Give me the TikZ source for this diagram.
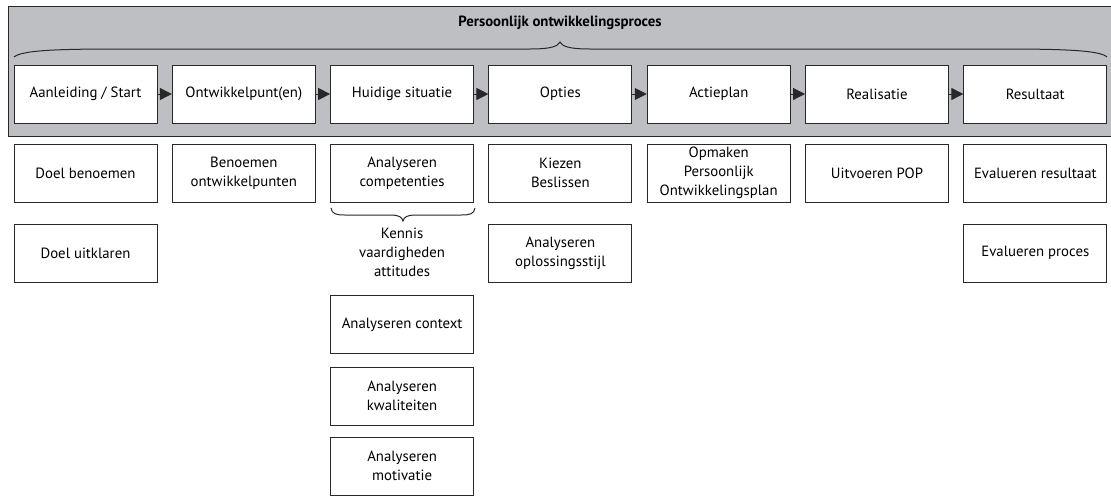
\documentclass[tikz,border=0pt]{standalone}
\usepackage{fontspec}
\setmainfont{PT Sans}
\setsansfont{PT Sans}
\usepackage{tikz}
\usetikzlibrary{arrows.meta,positioning}
\definecolor{balk}{RGB}{190,191,195}
\definecolor{lijn}{RGB}{40,40,40}
\newcommand{\tekst}{\fontsize{14.8}{19}\selectfont}
\tikzset{
  blok/.style={draw=lijn, line width=0.9pt, fill=white, minimum width=143pt, minimum height=58pt, inner sep=0pt, align=center, font=\tekst},
  pijl/.style={draw=lijn, line width=0.9pt, -{Triangle[length=12pt,width=12pt]}},
  accolade/.style={draw=lijn, line width=1pt}
}

\begin{document}
\begin{tikzpicture}[x=1pt, y=-1pt]
    \useasboundingbox (0,0) rectangle (1111,496);
    % balk
    \path[draw=lijn, line width=1pt, fill=balk](8,6)rectangle(1120,136);
    % titel
    \node[font=\tekst\bfseries](titel)at(560,23){Persoonlijk ontwikkelingsproces};
    % accolade boven
    \path[accolade](14,57) .. controls (22,50) and (60,49) .. (120,49) -- (530,49)
        .. controls (552,49) and (558,46) .. (560,42)
        .. controls (562,46) and (568,49) .. (590,49) -- (1000,49)
        .. controls (1060,49) and (1100,50) .. (1107,57);
    % stappen
    \node[blok](stap1)at(85.5,94){Aanleiding / Start};
    \node[blok](stap2)at(243.8,94){Ontwikkelpunt(en)};
    \node[blok](stap3)at(402.1,94){Huidige situatie};
    \node[blok](stap4)at(560.4,94){Opties};
    \node[blok](stap5)at(718.7,94){Actieplan};
    \node[blok](stap6)at(877,94){Realisatie};
    \node[blok](stap7)at(1035.3,94){Resultaat};
    \foreach \a/\b in {1/2,2/3,3/4,4/5,5/6,6/7}
        \path[pijl](stap\a)to(stap\b);
    % activiteiten
    \node[blok](doel1)at(85.5,173){Doel benoemen};
    \node[blok](doel2)at(85.5,253){Doel uitklaren};
    \node[blok](punt1)at(243.8,173){Benoemen\\ontwikkelpunten};
    \node[blok](sit1)at(402.1,173){Analyseren\\competenties};
    \node[font=\tekst, align=center](kva)at(402.1,252){Kennis\\vaardigheden\\attitudes};
    \node[blok](sit2)at(402.1,324.5){Analyseren context};
    \node[blok](sit3)at(402.1,396){Analyseren\\kwaliteiten};
    \node[blok](sit4)at(402.1,466){Analyseren\\motivatie};
    \node[blok](opt1)at(560.4,173){Kiezen\\Beslissen};
    \node[blok](opt2)at(560.4,253){Analyseren\\oplossingsstijl};
    \node[blok](plan1)at(718.7,173){Opmaken\\Persoonlijk\\Ontwikkelingsplan};
    \node[blok](real1)at(877,173){Uitvoeren POP};
    \node[blok](res1)at(1035.3,173){Evalueren resultaat};
    \node[blok](res2)at(1035.3,253){Evalueren proces};
    % accolade onder competenties
    \path[accolade](331,208) .. controls (332,214) and (336,215) .. (345,215) -- (390,215)
        .. controls (399,215) and (402,217) .. (403,221)
        .. controls (404,217) and (407,215) .. (416,215) -- (461,215)
        .. controls (470,215) and (474,214) .. (475,208);
\end{tikzpicture}
\end{document}
